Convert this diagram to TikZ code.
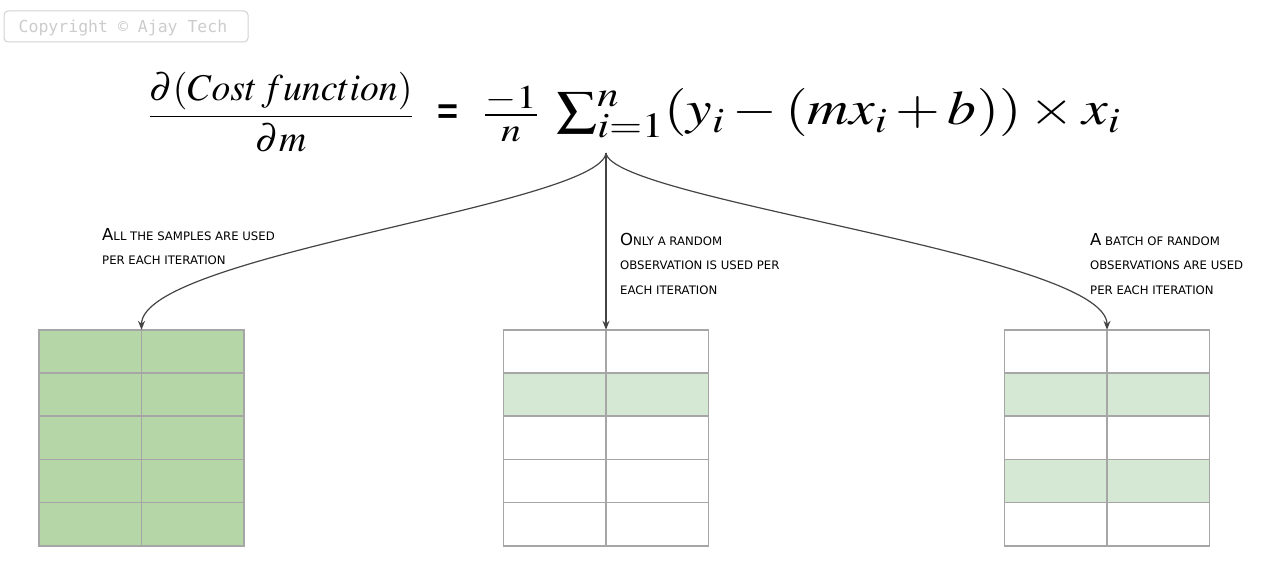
\documentclass[tikz,border=0pt]{standalone}
\usepackage{mathptmx}
\usepackage{fontspec}
\usetikzlibrary{arrows.meta,calc}
\newfontfamily\hand{DejaVu Sans}
\newfontfamily\monof{DejaVu Sans Mono}
\newfontfamily\eqsans{Liberation Sans}
\newcommand\bigc[1]{{\fontsize{16.5}{18}\selectfont #1}}
\definecolor{darkg}{HTML}{B5D6A7}
\definecolor{lightg}{HTML}{D5E8D4}
\definecolor{gridc}{HTML}{A6A6A6}
\definecolor{arrc}{HTML}{444444}
\begin{document}
\begin{tikzpicture}[x=1pt,y=-1pt,
  copybox/.style={draw=black!18,rounded corners=4pt,line width=1pt,minimum width=244,minimum height=31,inner sep=0},
  copytxt/.style={inner sep=0,text=black!20,font=\monof\fontsize{16.5}{18}\selectfont},
  lbl/.style={inner sep=0,anchor=north west,align=left,font=\hand\fontsize{11.7}{24.5}\selectfont},
  tbl/.style={minimum width=205,minimum height=216,inner sep=0},
  gridline/.style={draw=gridc,line width=1.5pt},
  arr/.style={draw=arrc,line width=1.2pt,-{Stealth[length=9,width=7,inset=3]}}]
\useasboundingbox (0,0) rectangle (1269,567);
\node[copybox] (cp) at (126,26.5) {};
\node[copytxt] (cpt) at (123,28) {Copyright © Ajay Tech};
% equation
\node[inner sep=0,anchor=base,font=\fontsize{37.7}{42}\selectfont] (lhs) at (281,126) {$\displaystyle\frac{\partial(Cost\,function)}{\partial m}$};
\node[inner sep=0,anchor=base,font=\eqsans\fontsize{36}{40}\selectfont\bfseries] (eq) at (448.5,124) {=};
\node[inner sep=0,anchor=base,font=\fontsize{45}{50}\selectfont] (coef) at (511,126) {\scalebox{1.2}[1]{$\frac{-1}{n}$}};
\node[inner sep=0,anchor=base west,font=\fontsize{48}{52}\selectfont] (rhs) at (556,125) {\scalebox{1.2}[1]{$\sum_{i=1}^{n}(y_i-(mx_i+b))\times x_i$}};
\coordinate (src) at (606,153);
% tables
\node[tbl,fill=darkg] (tL) at (141.5,438) {};
\node[tbl] (tM) at (606,438) {};
\node[tbl] (tR) at (1107,438) {};
\fill[lightg] ($(tM.north west)+(0,43.2)$) rectangle ($(tM.north east)+(0,86.4)$);
\fill[lightg] ($(tR.north west)+(0,43.2)$) rectangle ($(tR.north east)+(0,86.4)$);
\fill[lightg] ($(tR.north west)+(0,129.6)$) rectangle ($(tR.north east)+(0,172.8)$);
\foreach \t in {tL,tM,tR}{
  \foreach \k in {1,2,3,4}{
    \draw[gridline] ($(\t.north west)+(0,\k*43.2)$) -- ($(\t.north east)+(0,\k*43.2)$);
  }
  \draw[gridline] (\t.north) -- (\t.south);
  \draw[gridline] (\t.north west) rectangle (\t.south east);
}
% labels
\node[lbl] (lab1) at (102,228) {\bigc{A}LL THE SAMPLES ARE USED\\PER EACH ITERATION};
\node[lbl] (lab2) at (620,233) {\bigc{O}NLY A RANDOM\\OBSERVATION IS USED PER\\EACH ITERATION};
\node[lbl] (lab3) at (1090,233) {\bigc{A} BATCH OF RANDOM\\OBSERVATIONS ARE USED\\PER EACH ITERATION};
% arrows
\draw[arr] (src) .. controls (600,205) and (141.5,255) .. (tL.north);
\draw[arr] (src) -- (tM.north);
\draw[arr] (src) .. controls (612,200) and (1107,255) .. (tR.north);
\end{tikzpicture}
\end{document}
